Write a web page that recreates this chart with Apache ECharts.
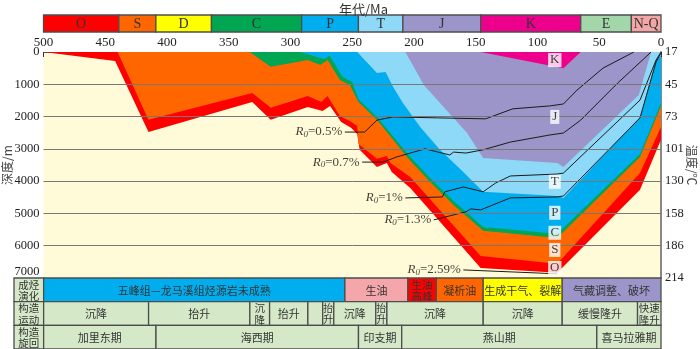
<!DOCTYPE html>
<html>
<head>
<meta charset="utf-8">
<script src="https://cdn.jsdelivr.net/npm/echarts@6/dist/echarts.min.js"></script>
<style>
  html, body { margin: 0; padding: 0; background: #fff; }
  #chart { width: 700px; height: 349px; }
</style>
</head>
<body>
<div id="chart"></div>
<script>
  // 地质年代 (Ma)
  var periodNames = ['O', 'S', 'D', 'C', 'P', 'T', 'J', 'K', 'E', 'N-Q'];
  var periodStart = [500, 439, 409, 364, 291, 245, 209, 146, 65, 24];
  var periodEnd = [439, 409, 364, 291, 245, 209, 146, 65, 24, 0];
  var periodColors = ['#ff0000', '#ff6600', '#ffff00', '#00a651', '#00aeef', '#8ed8f8', '#9b95c9', '#ec008c', '#a3d7aa', '#f4a6a6'];

  var tempLabels = ['17', '45', '73', '101', '130', '158', '186', '214'];
  var depthLines = [1000, 2000, 3000, 4000, 5000, 6000];

  // 各地层底界埋藏曲线 [Ma, 深度m]
  var oBase = [[500, 0], [442, 280], [415, 2480], [331, 1550], [316, 2100], [286, 1700], [274, 1830], [268, 1670], [259, 2170], [251, 2350], [246, 2540], [244, 3030], [230, 3560], [222, 3440], [218, 3720], [203, 4210], [146, 6690], [84, 6840], [17, 4270], [0, 2720]];
  var sBase = [[440, 0], [415, 2100], [331, 1270], [316, 1730], [286, 1360], [275, 1550], [270, 1360], [260, 1980], [252, 2140], [246, 2290], [245, 2850], [230, 3310], [222, 3220], [219, 3440], [203, 3870], [146, 6320], [84, 6560], [17, 3750], [0, 2320]];
  var cBase = [[333, 0], [316, 460], [286, 250], [276, 400], [270, 250], [260, 870], [252, 1020], [245, 1550], [230, 2100], [205, 3280], [187, 4020], [168, 4740], [144, 5540], [84, 5760], [17, 3250], [0, 1670]];
  var pBase = [[292, 0], [273, 220], [268, 120], [258, 770], [250, 930], [245, 1460], [230, 2010], [205, 3160], [187, 3900], [168, 4610], [144, 5420], [84, 5630], [17, 3160], [0, 1580]];
  var tBase = [[246, 0], [230, 650], [223, 620], [217, 1080], [209, 1580], [195, 2320], [179, 3030], [162, 3650], [144, 4330], [84, 4460], [79, 4520], [17, 2010], [4, 250], [0, 100]];
  var jBase = [[207, 0], [192, 1020], [176, 1700], [157, 2510], [144, 3280], [84, 3440], [79, 3560], [18, 1330], [8, 0], [0, 0]];
  var kBase = [[146, 0], [79, 500], [65, 0]];
  var layerColors = ['#ff0000', '#ff6600', '#00a651', '#00aeef', '#8ed8f8', '#9b95c9', '#ec008c'];

  // 镜质体反射率等值线
  var ro05 = [[256, 2480], [240, 2480], [230, 2110], [217, 2010], [181, 2040], [142, 2070], [120, 1760], [90, 1670], [79, 1610], [68, 1180], [47, 500], [22, 0]];
  var ro07 = [[242, 3410], [225, 3410], [214, 3250], [191, 3000], [171, 3190], [168, 3100], [158, 3130], [144, 3030], [122, 2790], [90, 2570], [79, 2510], [65, 2110], [35, 960], [8, 0]];
  var ro10 = [[207, 4520], [177, 4490], [175, 4330], [160, 4180], [144, 4330], [134, 4060], [122, 3840], [84, 3780], [79, 3750], [17, 1490], [4, 250], [0, 0]];
  var ro13 = [[184, 5200], [158, 4950], [154, 4860], [146, 4890], [122, 4520], [84, 4490], [79, 4460], [17, 2040], [4, 310], [0, 30]];
  var ro259 = [[160, 6750], [84, 6870]];
  var roNames = ['0.5%', '0.7%', '1%', '1.3%', '2.59%'];

  var layerLabels = [[86, 250, 'K'], [86, 2010, 'J'], [86, 4020, 'T'], [86, 4980, 'P'], [86, 5600, 'C'], [86, 6130, 'S'], [86, 6690, 'O']];

  // 下方表格
  var rowHeads = ['成烃\n演化', '构造\n运动', '构造\n旋回'];
  var evoBounds = [500, 256, 205, 182, 144, 80, 0];
  var evoTexts = ['五峰组—龙马溪组烃源岩未成熟', '生油', '生油\n高峰', '凝析油', '生成干气、裂解', '气藏调整、破坏'];
  var evoColors = ['#00aeef', '#f4a6ab', '#ff0000', '#ff6600', '#ffff00', '#9b95c9'];
  var moveBounds = [500, 415, 333, 317, 286, 274, 265, 231, 222, 144, 80, 19, 0];
  var moveTexts = ['沉降', '抬升', '沉\n降', '抬升', '', '抬\n升', '沉降', '抬\n升', '沉降', '沉降', '缓慢隆升', '快速\n隆升'];
  var cycleBounds = [500, 409, 245, 210, 52, 0];
  var cycleTexts = ['加里东期', '海西期', '印支期', '燕山期', '喜马拉雅期'];

  var cellGreen = '#d5e9c9';
  var serif = '"Liberation Serif", "Noto Sans CJK SC", serif';
  var cjk = '"Noto Sans CJK SC", sans-serif';

  var cells = [];
  rowHeads.forEach(function (t, i) { cells.push([524, 500, i, t, cellGreen]); });
  for (var i = 0; i < evoTexts.length; i++) cells.push([evoBounds[i], evoBounds[i + 1], 0, evoTexts[i], evoColors[i]]);
  for (var i = 0; i < moveTexts.length; i++) cells.push([moveBounds[i], moveBounds[i + 1], 1, moveTexts[i], cellGreen]);
  for (var i = 0; i < cycleTexts.length; i++) cells.push([cycleBounds[i], cycleBounds[i + 1], 2, cycleTexts[i], cellGreen]);

  var periods = periodNames.map(function (n, i) { return [periodStart[i], periodEnd[i], 0, n, periodColors[i]]; });

  function boxRender(list, fontFn) {
    return function (params, api) {
      var c = list[params.dataIndex];
      var a = api.coord([api.value(0), api.value(2)]);
      var b = api.coord([api.value(1), api.value(2) + 1]);
      var x = Math.min(a[0], b[0]), y = Math.min(a[1], b[1]);
      var w = Math.abs(b[0] - a[0]), h = Math.abs(b[1] - a[1]);
      var f = fontFn(c, w);
      return {
        type: 'group',
        children: [{
          type: 'rect',
          shape: { x: x, y: y, width: w, height: h },
          style: { fill: c[4], stroke: '#4d4d4d', lineWidth: 1.3 }
        }, {
          type: 'text',
          style: {
            x: x + w / 2, y: y + h / 2 + 0.5, text: c[3], align: 'center', verticalAlign: 'middle',
            fill: '#333', font: f.size + 'px ' + f.family, lineHeight: f.lh
          }
        }]
      };
    };
  }

  function layerSeries(data, color) {
    return {
      type: 'line', xAxisIndex: 1, yAxisIndex: 1, data: data, symbol: 'none', silent: true,
      lineStyle: { width: 0 }, areaStyle: { color: color, opacity: 1 }, z: 2
    };
  }

  function roSeries(data) {
    return {
      type: 'line', xAxisIndex: 1, yAxisIndex: 1, data: data, symbol: 'none', silent: true,
      lineStyle: { color: '#1a1a1a', width: 1 }, z: 4
    };
  }

  var chart = echarts.init(document.getElementById('chart'));
  chart.setOption({
    animation: false,
    title: {
      text: '年代/Ma', left: 334, top: -2,
      textStyle: { fontFamily: cjk, fontSize: 13, fontWeight: 'normal', color: '#333' }
    },
    grid: [
      { left: 43.5, right: 39, top: 15, height: 17, outerBoundsMode: 'none', containLabel: false },
      { left: 43.5, right: 39, top: 52, height: 226, outerBoundsMode: 'none', containLabel: false, show: true, backgroundColor: '#fffbd8', borderWidth: 0 },
      { left: 14, right: 39, top: 278, height: 71, outerBoundsMode: 'none', containLabel: false }
    ],
    xAxis: [
      { gridIndex: 0, type: 'value', min: 0, max: 500, inverse: true, show: false },
      {
        gridIndex: 1, type: 'value', min: 0, max: 500, interval: 50, inverse: true, position: 'top',
        axisLine: { show: true, lineStyle: { color: '#555', width: 1 } },
        axisTick: { show: true, inside: true, length: 5, lineStyle: { color: '#333' } },
        axisLabel: { fontFamily: serif, fontSize: 13, color: '#222', margin: 3 },
        splitLine: { show: false }
      },
      { gridIndex: 2, type: 'value', min: 0, max: 524, inverse: true, show: false }
    ],
    yAxis: [
      { gridIndex: 0, type: 'value', min: 0, max: 1, inverse: true, show: false },
      {
        gridIndex: 1, type: 'value', min: 0, max: 7000, interval: 1000, inverse: true,
        name: '深度/m', nameLocation: 'middle', nameGap: 30.5, nameRotate: 90, nameMoveOverlap: false,
        nameTextStyle: { fontFamily: cjk, fontSize: 12, color: '#444' },
        axisLine: { show: true, lineStyle: { color: '#888', width: 2 } },
        axisTick: { show: false },
        axisLabel: {
          fontFamily: serif, fontSize: 12.5, color: '#222', margin: 4,
          formatter: function (v) { return v === 7000 ? '{up|' + v + '}' : String(v); },
          rich: { up: { fontFamily: serif, fontSize: 12.5, color: '#222', padding: [0, 0, 12, 0] } }
        },
        splitLine: { show: false }
      },
      {
        gridIndex: 1, type: 'value', min: 0, max: 7000, interval: 1000, inverse: true, position: 'right',
        name: '温度/℃', nameLocation: 'middle', nameGap: 25, nameRotate: -90, nameMoveOverlap: false,
        nameTextStyle: { fontFamily: cjk, fontSize: 12, color: '#444' },
        axisLine: { show: true, lineStyle: { color: '#888', width: 1 } },
        axisTick: { show: false },
        axisLabel: {
          fontFamily: serif, fontSize: 12.5, color: '#222', margin: 4,
          formatter: function (v) { return tempLabels[Math.round(v / 1000)]; }
        },
        splitLine: { show: false }
      },
      { gridIndex: 2, type: 'value', min: 0, max: 3, inverse: true, show: false }
    ],
    series: [
      {
        type: 'custom', xAxisIndex: 0, yAxisIndex: 0, silent: true,
        data: periods.map(function (p) { return [p[0], p[1], p[2]]; }),
        renderItem: boxRender(periods, function () { return { size: 14, family: serif, lh: 14 }; })
      },
      layerSeries(oBase, layerColors[0]),
      layerSeries(sBase, layerColors[1]),
      layerSeries(cBase, layerColors[2]),
      layerSeries(pBase, layerColors[3]),
      layerSeries(tBase, layerColors[4]),
      layerSeries(jBase, layerColors[5]),
      layerSeries(kBase, layerColors[6]),
      {
        type: 'line', xAxisIndex: 1, yAxisIndex: 1, data: [], z: 3, silent: true,
        markLine: {
          silent: true, symbol: 'none', label: { show: false },
          lineStyle: { color: '#777', width: 1, type: 'solid' },
          data: depthLines.map(function (d) { return { yAxis: d }; })
        }
      },
      roSeries(ro05), roSeries(ro07), roSeries(ro10), roSeries(ro13), roSeries(ro259),
      {
        type: 'scatter', xAxisIndex: 1, yAxisIndex: 1, symbolSize: 1, z: 5, silent: true,
        itemStyle: { color: 'rgba(0,0,0,0)' },
        data: [ro05[0], ro07[0], ro10[0], ro13[0], ro259[0]].map(function (p, i) {
          return { value: p, name: roNames[i] };
        }),
        label: {
          show: true, position: 'left', distance: 2,
          formatter: function (p) { return '{r|R}{s|0}{n|=' + p.name + '}'; },
          rich: {
            r: { fontFamily: serif, fontStyle: 'italic', fontSize: 13, color: '#111' },
            s: { fontFamily: serif, fontStyle: 'italic', fontSize: 9, color: '#111', padding: [6, 0, 0, 0] },
            n: { fontFamily: serif, fontSize: 13, color: '#111' }
          }
        }
      },
      {
        type: 'scatter', xAxisIndex: 1, yAxisIndex: 1, symbolSize: 1, z: 6, silent: true,
        itemStyle: { color: 'rgba(0,0,0,0)' },
        data: layerLabels.map(function (l) { return { value: [l[0], l[1]], name: l[2] }; }),
        label: {
          show: true, position: 'inside', formatter: '{b}', backgroundColor: '#fff',
          padding: [1, 2, 0, 2], fontFamily: serif, fontSize: 13, color: '#111'
        }
      },
      {
        type: 'custom', xAxisIndex: 2, yAxisIndex: 3, silent: true, z: 7,
        data: cells.map(function (c) { return [c[0], c[1], c[2]]; }),
        renderItem: boxRender(cells, function (c, w) {
          if (w < 16) return { size: 10, family: cjk, lh: 11 };
          if (c[3].indexOf('\n') >= 0) return { size: 10.5, family: cjk, lh: 11.5 };
          return { size: 11, family: cjk, lh: 14 };
        })
      }
    ]
  });
</script>
</body>
</html>
